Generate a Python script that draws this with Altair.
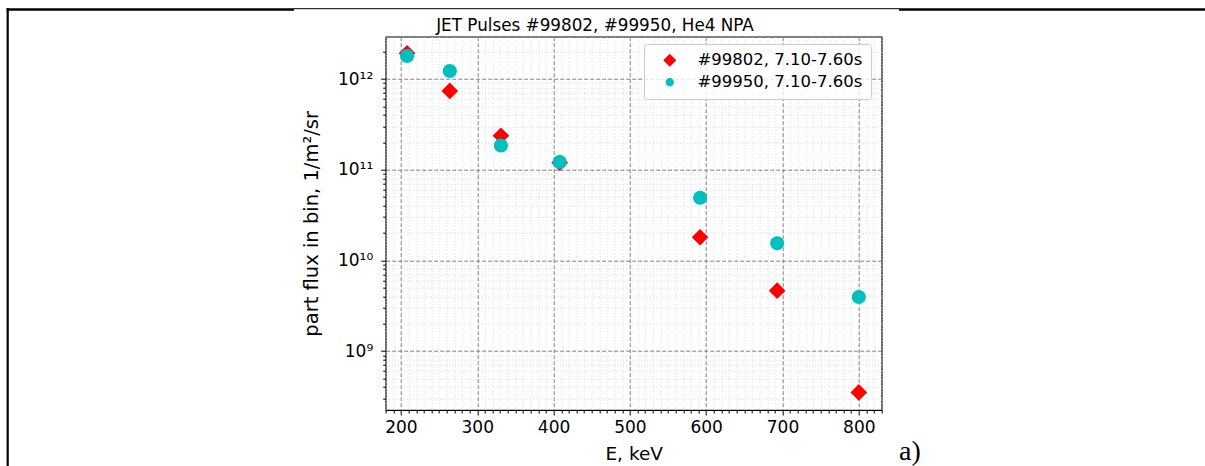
import altair as alt
import pandas as pd

# ---------------- data ----------------
energy_kev = [208, 264, 331, 408, 592, 693, 800]
flux_99802 = [1.92e12, 7.4e11, 2.37e11, 1.19e11, 1.8e10, 4.64e9, 3.5e8]
flux_99950 = [1.8e12, 1.23e12, 1.85e11, 1.22e11, 4.9e10, 1.55e10, 3.95e9]
series_names = ["#99802, 7.10-7.60s", "#99950, 7.10-7.60s"]
series_colors = ["#ff0000", "#00bfbf"]

title_text = "JET Pulses #99802, #99950, He4 NPA"
x_title = "E, keV"
y_title = "part flux in bin, 1/m²/sr"
panel_tag = "a)"

x_domain = [180, 830]
y_domain = [2.24e8, 2.93e12]
x_tick_values = list(range(180, 831, 10))
y_decades = [8, 9, 10, 11, 12]
y_tick_values = [m * 10 ** d for d in y_decades for m in range(1, 10)
                 if y_domain[0] <= m * 10 ** d <= y_domain[1]]
y_major_labels = {9: "10⁹", 10: "10¹⁰", 11: "10¹¹", 12: "10¹²"}

# ---------------- layout ----------------
W, H = 496, 373.3
PAD_L, PAD_T = 385.7, 36.7
FONT = "DejaVu Sans"

rows = []
for e, f in zip(energy_kev, flux_99802):
    rows.append({"E": e, "flux": f, "series": series_names[0]})
for e, f in zip(energy_kev, flux_99950):
    rows.append({"E": e, "flux": f, "series": series_names[1]})
df = pd.DataFrame(rows)

diamond_path = "M-1,0L0,-1L1,0L0,1Z"
r = 0.64
circle_path = f"M{r},0A{r},{r},0,1,1,{-r},0A{r},{r},0,1,1,{r},0Z"

x_major = "datum.value % 100 === 0"
y_log = "log(datum.value)/LN10"
y_major = f"abs({y_log} - round({y_log})) < 1e-6"
y_label_expr = (f"{y_major} ? ("
                + " : ".join(f"round({y_log}) == {k} ? '{v}'" for k, v in y_major_labels.items())
                + " : '') : ''")


def cond(test, major, minor):
    return {"condition": {"test": test, "value": major}, "value": minor}


x_axis = alt.Axis(
    values=x_tick_values,
    labelExpr=f"{x_major} ? datum.label : ''",
    labelOverlap=False, labelFlush=False,
    labelFont=FONT, labelFontSize=17, labelColor="#000", labelPadding=4,
    grid=True,
    gridDash=cond(x_major, [4, 2], [1, 2]),
    gridColor=cond(x_major, "#808080", "#d0d0d0"),
    gridWidth=cond(x_major, 1, 0.8),
    tickSize=cond(x_major, 5, 3),
    tickColor="#000", tickWidth=1,
    domain=False,
    title=x_title, titleFont=FONT, titleFontSize=18.5, titleFontWeight="normal",
    titleColor="#000", titleX=W / 2, titleY=49, titleBaseline="alphabetic", titleAlign="center",
)

y_axis = alt.Axis(
    values=y_tick_values,
    labelExpr=y_label_expr,
    labelOverlap=False, labelFlush=False,
    labelFont=FONT, labelFontSize=17, labelColor="#000", labelPadding=8,
    grid=True,
    gridDash=cond(y_major, [4, 2], [1, 2]),
    gridColor=cond(y_major, "#808080", "#d0d0d0"),
    gridWidth=cond(y_major, 1, 0.8),
    tickSize=cond(y_major, 5, 3),
    tickColor="#000", tickWidth=1,
    domain=False,
    title=y_title, titleFont=FONT, titleFontSize=19.5, titleFontWeight="normal",
    titleColor="#000", titleX=-74, titleY=H / 2, titleAngle=270,
    titleBaseline="middle", titleAlign="center",
)

legend_def = alt.Legend(
    title=None, orient="none", legendX=258.3, legendY=7.3,
    symbolSize=169, labelFont=FONT, labelFontSize=16.5, labelColor="#000",
    labelLimit=400, padding=8, symbolOffset=9.5, labelOffset=19.5, rowPadding=5,
    fillColor="rgba(255,255,255,0.8)", strokeColor="#cccccc", cornerRadius=3,
)

points = alt.Chart(df).mark_point(filled=True, opacity=1, strokeWidth=0).encode(
    x=alt.X("E:Q", scale=alt.Scale(domain=x_domain, nice=False, zero=False), axis=x_axis),
    y=alt.Y("flux:Q", scale=alt.Scale(type="log", domain=y_domain, nice=False), axis=y_axis),
    color=alt.Color("series:N", scale=alt.Scale(domain=series_names, range=series_colors),
                    legend=legend_def),
    shape=alt.Shape("series:N", scale=alt.Scale(domain=series_names,
                                                range=[diamond_path, circle_path]),
                    legend=legend_def),
    size=alt.condition(alt.datum.series == series_names[0], alt.value(279), alt.value(479)),
)

one = pd.DataFrame({"t": [title_text]})
title_mark = alt.Chart(one).mark_text(
    font=FONT, fontSize=16.8, color="#000", align="center", baseline="alphabetic"
).encode(text="t:N", x=alt.value(209.3), y=alt.value(-6.2))

tag = alt.Chart(pd.DataFrame({"t": [panel_tag]})).mark_text(
    font="Liberation Serif", fontSize=28, color="#000", align="left", baseline="alphabetic"
).encode(text="t:N", x=alt.value(513.3), y=alt.value(423.5))

frame_src = pd.DataFrame({"k": [0]})


def hline(x1, x2, y, w):
    return alt.Chart(frame_src).mark_rule(color="#000", strokeWidth=w).encode(
        x=alt.value(x1), x2=alt.value(x2), y=alt.value(y))


frame_left = alt.Chart(frame_src).mark_rule(color="#000", strokeWidth=2.2).encode(
    x=alt.value(7.7 - PAD_L), y=alt.value(8.2 - PAD_T), y2=alt.value(470 - PAD_T))
frame_top1 = hline(6.6 - PAD_L, 294 - PAD_L, 9.5 - PAD_T, 2.4)
frame_top2 = hline(294 - PAD_L, 899 - PAD_L, 8.7 - PAD_T, 1)
frame_top3 = hline(899 - PAD_L, 1210 - PAD_L, 9.5 - PAD_T, 2.4)

chart = alt.layer(
    points, title_mark, tag, frame_left, frame_top1, frame_top2, frame_top3
).properties(
    width=W, height=H,
    autosize=alt.AutoSizeParams(type="none"),
    padding={"left": PAD_L, "top": PAD_T, "right": 1205 - PAD_L - W, "bottom": 466 - PAD_T - H},
    background="white",
).configure_view(stroke="#000", strokeWidth=1.2)

chart.save("out.html", embed_options={"renderer": "svg", "actions": False})
